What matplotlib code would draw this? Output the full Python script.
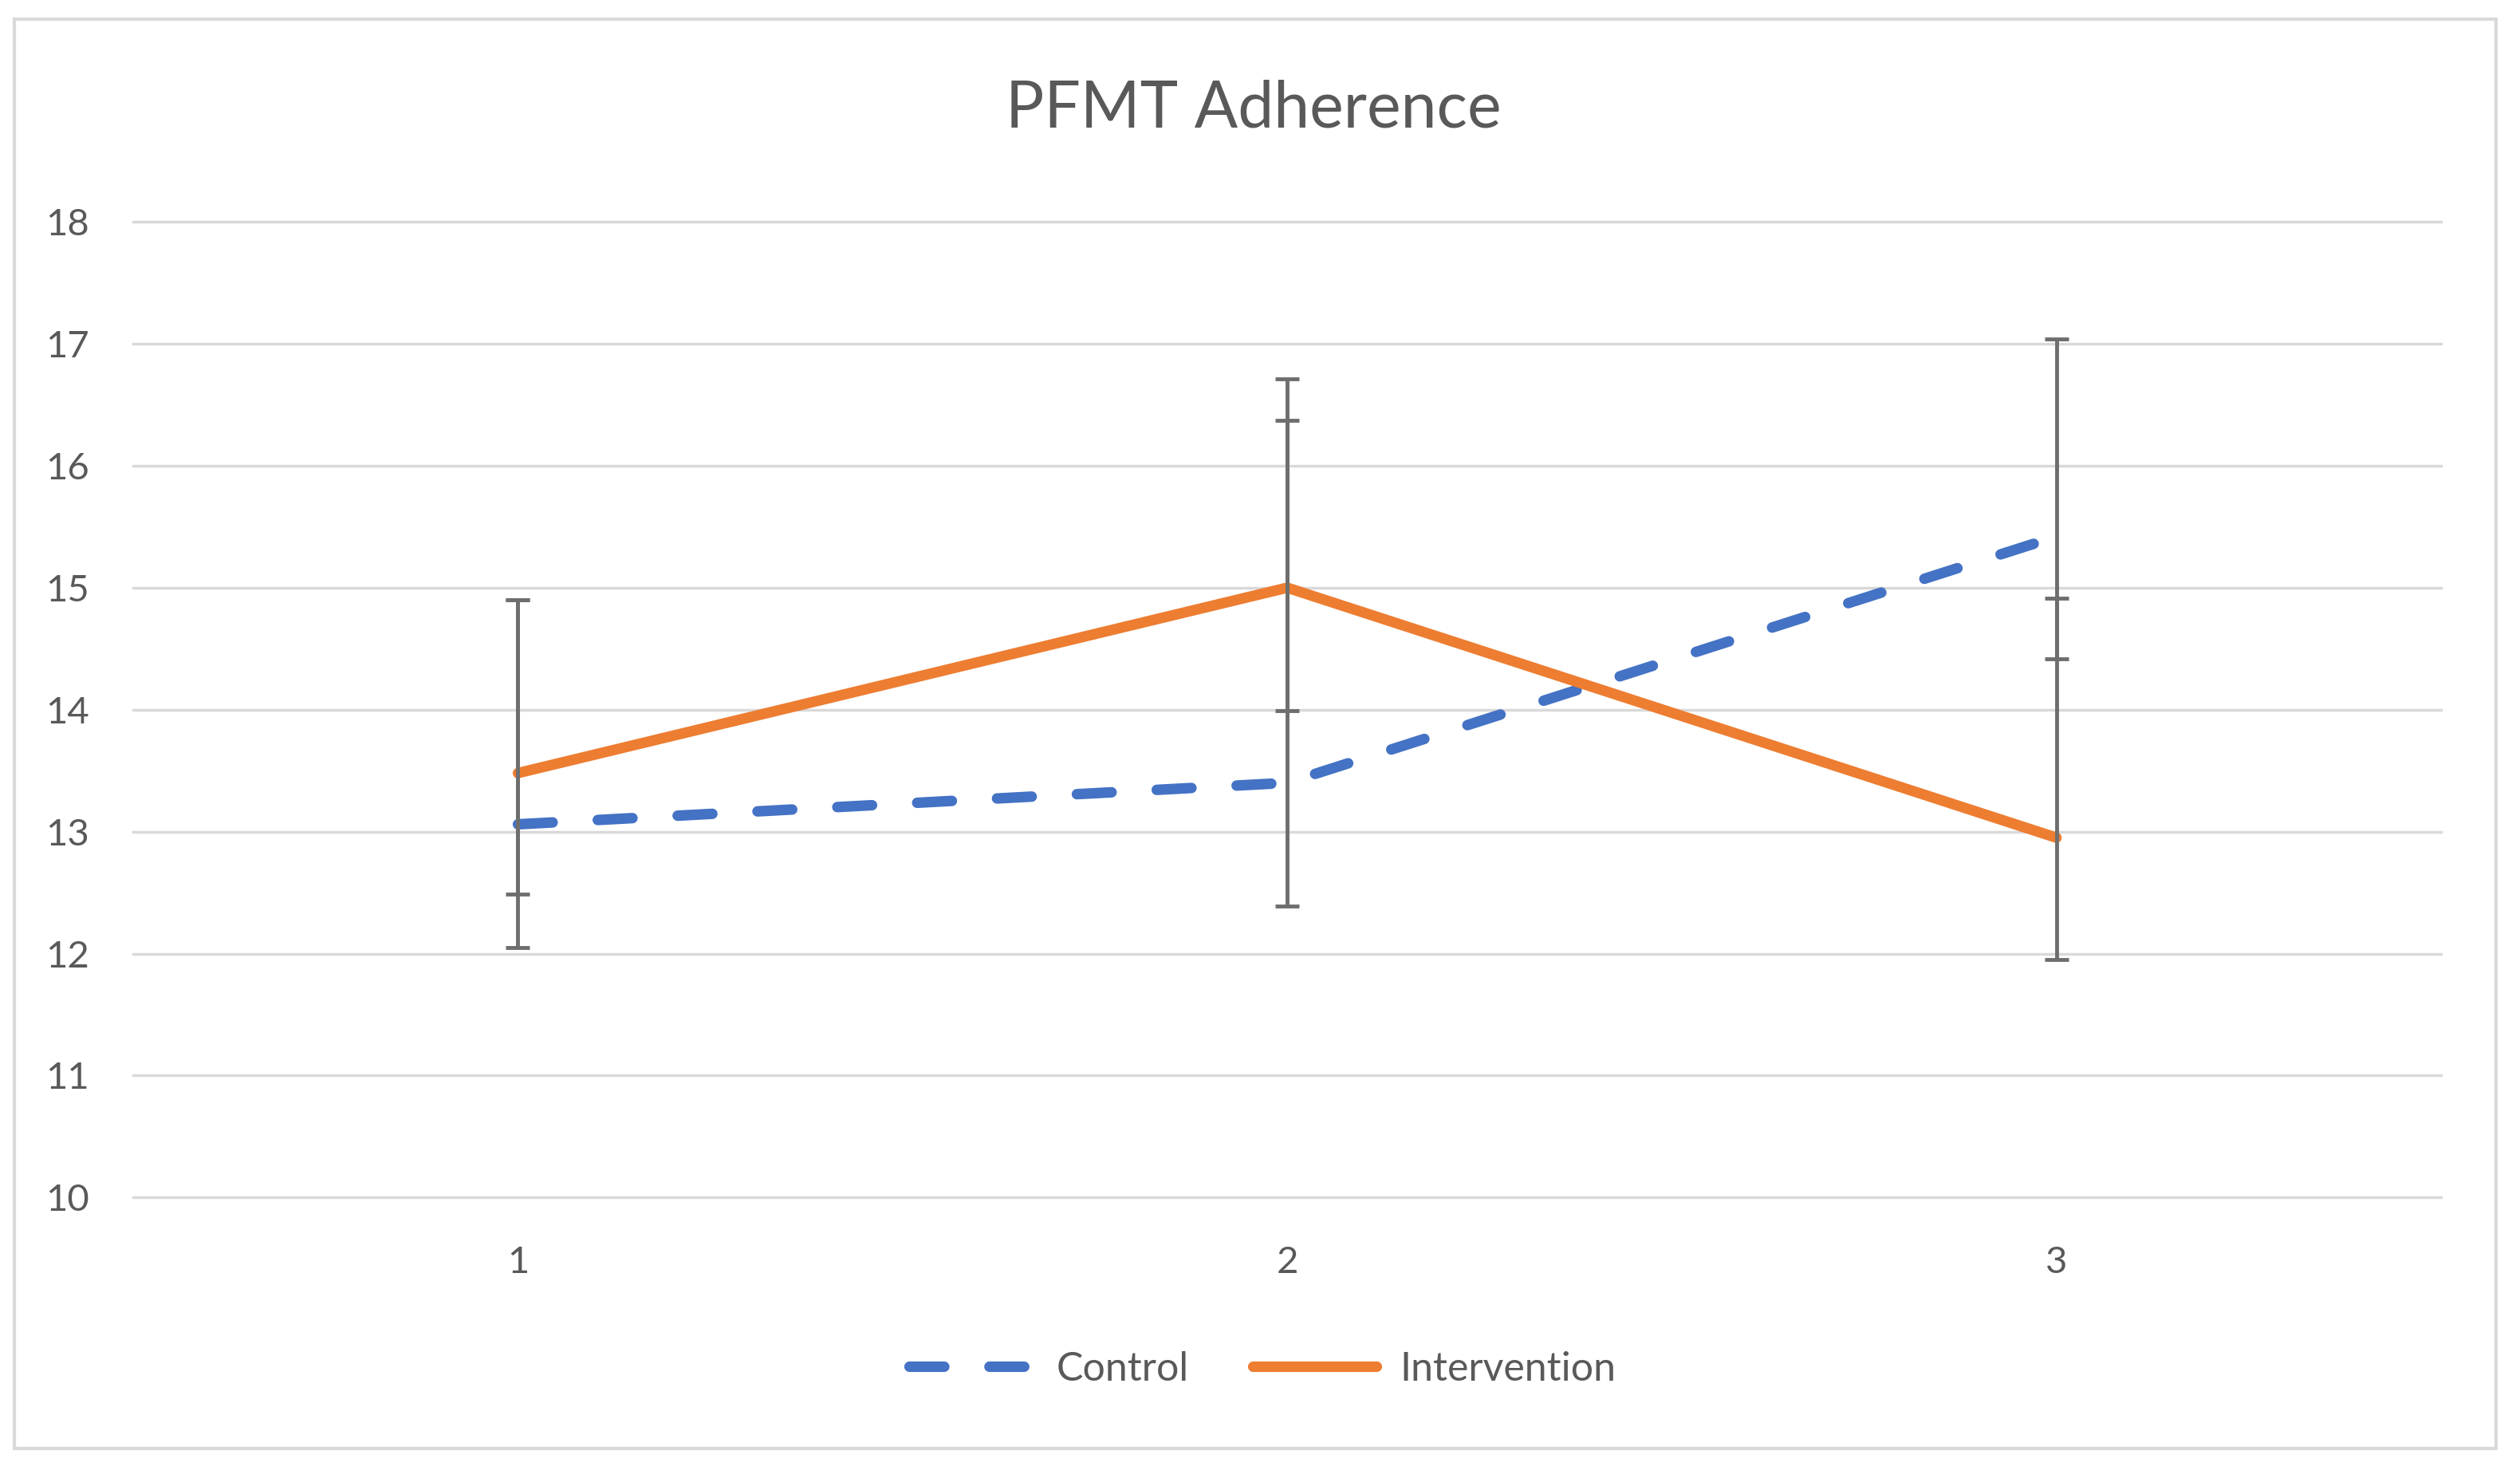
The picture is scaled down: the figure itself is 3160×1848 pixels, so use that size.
import matplotlib
matplotlib.use('Agg')
import matplotlib.pyplot as plt
from matplotlib.patches import Rectangle

# values
timepoints = [1, 2, 3]
control = [13.06, 13.40, 15.42]
intervention = [13.48, 15.00, 12.95]

# error bar ends (low / high) for each series
control_lo = [12.49, 12.39, 14.42]
control_hi = [14.90, 16.37, 17.04]
interv_lo = [12.05, 13.99, 11.95]
interv_hi = [14.90, 16.71, 14.915]

yticks = [10, 11, 12, 13, 14, 15, 16, 17, 18]

plt.rcParams['font.family'] = ['Lato', 'DejaVu Sans']
text_col = '#595959'
grid_col = '#d9d9d9'
blue = '#4472C4'
orange = '#ED7D31'
err_col = '#6e6e6e'

fig = plt.figure(figsize=(31.6, 18.48), dpi=100)
ax = fig.add_axes([0.0529, 0.1876, 0.9158, 0.6619])

ax.plot(timepoints, control, color=blue, lw=9.5, dashes=(3.3, 4.3),
        dash_capstyle='round', solid_capstyle='round', label='Control', zorder=3)
ax.plot(timepoints, intervention, color=orange, lw=9.5,
        solid_capstyle='round', label='Intervention', zorder=3)

c_err = [[m - lo for m, lo in zip(control, control_lo)],
         [hi - m for m, hi in zip(control, control_hi)]]
i_err = [[m - lo for m, lo in zip(intervention, interv_lo)],
         [hi - m for m, hi in zip(intervention, interv_hi)]]
ax.errorbar(timepoints, control, yerr=c_err, fmt='none', ecolor=err_col,
            elinewidth=3.5, capsize=11, capthick=3.5, zorder=4)
ax.errorbar(timepoints, intervention, yerr=i_err, fmt='none', ecolor=err_col,
            elinewidth=3.5, capsize=11, capthick=3.5, zorder=4)

ax.set_xlim(0.5, 3.5)
ax.set_ylim(10, 18)
ax.set_xticks(timepoints)
ax.set_yticks(yticks)
for s in ax.spines.values():
    s.set_visible(False)
ax.yaxis.grid(True, color=grid_col, lw=2.5)
ax.set_axisbelow(True)
for gl in ax.get_ygridlines():
    gl.set_clip_on(False)
ax.tick_params(axis='both', length=0, labelsize=34, labelcolor=text_col)
ax.tick_params(axis='y', pad=40)
ax.tick_params(axis='x', pad=44)

fig.text(0.4975, 0.926, 'PFMT Adherence', ha='center', va='center',
         fontsize=58, color=text_col)

fig.legend(loc='center', bbox_to_anchor=(0.501, 0.071), ncol=2, frameon=False,
           fontsize=36, handlelength=3.1, handletextpad=0.6, columnspacing=1.6,
           labelcolor=text_col)

fig.patches.append(Rectangle((18 / 3160, 1 - 1816 / 1848), 3112 / 3160, 1792 / 1848,
                             transform=fig.transFigure, fill=False,
                             edgecolor=grid_col, lw=3))

fig.savefig('out.png', dpi=100)
